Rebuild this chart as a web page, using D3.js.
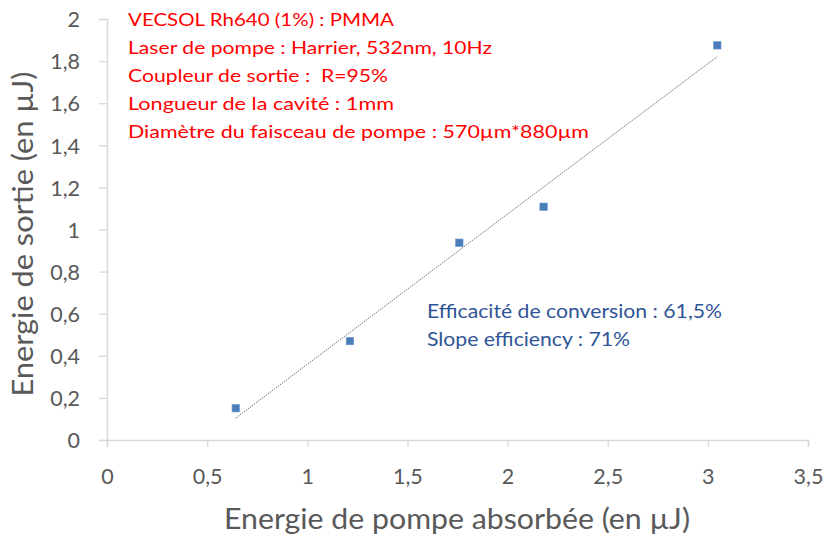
<!DOCTYPE html>
<html><head><meta charset="utf-8">
<script src="https://cdn.jsdelivr.net/npm/d3@7"></script>
<style>body{margin:0;background:#fff}text{font-family:Lato,"Open Sans",sans-serif}</style>
</head><body><svg id="c" width="824" height="534"></svg>
<script>
const pumpEnergy = [0.643, 1.213, 1.759, 2.180, 3.047];
const outputEnergy = [0.151, 0.470, 0.937, 1.108, 1.875];
const xTicks = [0, 0.5, 1, 1.5, 2, 2.5, 3, 3.5];
const yTicks = [0, 0.2, 0.4, 0.6, 0.8, 1, 1.2, 1.4, 1.6, 1.8, 2];
const redNotes = ["VECSOL Rh640 (1%) : PMMA", "Laser de pompe : Harrier, 532nm, 10Hz", "Coupleur de sortie :\u00a0 R=95%", "Longueur de la cavité : 1mm", "Diamètre du faisceau de pompe : 570µm*880µm"];
const redWidths = [266, 364, 260, 266, 461];
const blueNotes = ["Efficacité de conversion : 61,5%", "Slope efficiency : 71%"];
const blueWidths = [295, 203];
const xTitle = "Energie de pompe absorbée (en µJ)";
const yTitle = "Energie de sortie (en µJ)";

const svg = d3.select("#c");
const x = d3.scaleLinear().domain([0, 3.5]).range([107, 808]);
const y = d3.scaleLinear().domain([0, 2]).range([440, 19]);
const fmt = d => d3.format(",")(d).replace(".", ",");
const grey = "#595959", axisCol = "#d9d9d9";

// x axis
const xa = svg.append("g").attr("transform", "translate(0,440)")
  .call(d3.axisBottom(x).tickValues(xTicks).tickFormat(fmt).tickSize(7).tickPadding(22));
xa.select(".domain").attr("stroke", axisCol).attr("stroke-width", 1.5);
xa.selectAll(".tick line").attr("stroke", axisCol).attr("stroke-width", 1.3);
xa.selectAll(".tick text").attr("fill", grey).style("font-size", "21.5px").attr("font-family", "Lato");

// y axis
const ya = svg.append("g").attr("transform", "translate(107,0)")
  .call(d3.axisLeft(y).tickValues(yTicks).tickFormat(fmt).tickSize(8).tickPadding(19));
ya.select(".domain").attr("stroke", axisCol).attr("stroke-width", 1.5);
ya.selectAll(".tick line").attr("stroke", axisCol).attr("stroke-width", 1.3);
ya.selectAll(".tick text").attr("fill", grey).style("font-size", "21.5px").attr("font-family", "Lato").attr("dy", "0.36em");

// regression trendline
const n = pumpEnergy.length;
const mx = d3.mean(pumpEnergy), my = d3.mean(outputEnergy);
let sxy = 0, sxx = 0;
for (let i = 0; i < n; i++) { sxy += (pumpEnergy[i]-mx)*(outputEnergy[i]-my); sxx += (pumpEnergy[i]-mx)**2; }
const slope = sxy/sxx, icpt = my - slope*mx;
const x0 = d3.min(pumpEnergy), x1 = d3.max(pumpEnergy);
svg.append("line").attr("x1", x(x0)).attr("y1", y(slope*x0+icpt))
  .attr("x2", x(x1)).attr("y2", y(slope*x1+icpt))
  .attr("stroke", "#6b7280").attr("stroke-width", 1).attr("stroke-dasharray", "1.5,1");

// points
svg.selectAll("rect.pt").data(pumpEnergy).enter().append("rect").attr("class", "pt")
  .attr("x", (d) => x(d) - 3.75).attr("y", (d, i) => y(outputEnergy[i]) - 3.75)
  .attr("width", 7.5).attr("height", 7.5).attr("fill", "#4a7ebb").attr("stroke", "#6f9bd1").attr("stroke-width", 0.6);

// annotations
svg.selectAll("text.red").data(redNotes).enter().append("text").attr("class", "red")
  .attr("x", 128).attr("y", (d, i) => 26 + 28*i).text(d => d)
  .attr("fill", "#ff0000").style("font-size", "17.6px")
  .attr("textLength", (d, i) => redWidths[i]).attr("lengthAdjust", "spacingAndGlyphs");
svg.selectAll("text.blue").data(blueNotes).enter().append("text").attr("class", "blue")
  .attr("x", 427).attr("y", (d, i) => 317.5 + 28.5*i).text(d => d)
  .attr("fill", "#2f5597").style("font-size", "19.5px")
  .attr("textLength", (d, i) => blueWidths[i]).attr("lengthAdjust", "spacingAndGlyphs");

// titles
svg.append("text").attr("x", 457).attr("y", 529).attr("text-anchor", "middle")
  .attr("fill", grey).style("font-size", "28px").text(xTitle)
  .attr("textLength", 466).attr("lengthAdjust", "spacingAndGlyphs");
svg.append("text").attr("transform", "translate(33,234) rotate(-90)").attr("text-anchor", "middle")
  .attr("fill", grey).style("font-size", "28px").text(yTitle)
  .attr("textLength", 325).attr("lengthAdjust", "spacingAndGlyphs");
</script></body></html>
